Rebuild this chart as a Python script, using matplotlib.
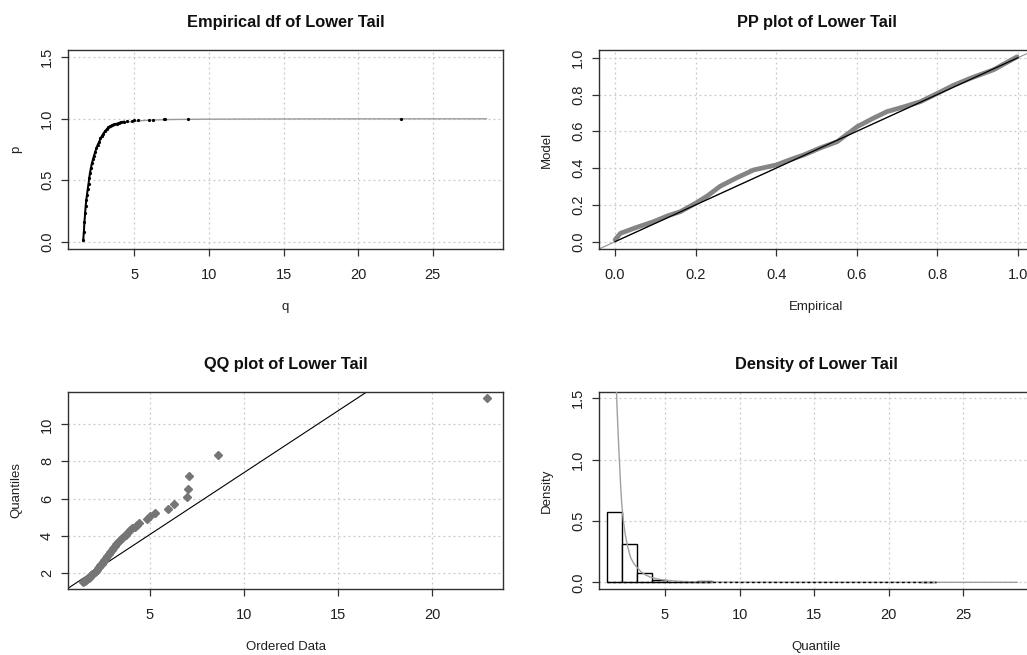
import matplotlib
matplotlib.use('Agg')
import matplotlib.pyplot as plt

plt.rcParams['font.family'] = ['Liberation Sans', 'DejaVu Sans']

# ---------------------------------------------------------------------------
# Data
# ---------------------------------------------------------------------------

# Empirical df: empirical points (black) and fitted model curve (grey)
ecdf_q = [1.58, 1.62, 1.66, 1.70, 1.74, 1.78, 1.83, 1.88, 1.93, 1.98, 2.03,
          2.09, 2.16, 2.23, 2.30, 2.38, 2.46, 2.55, 2.64, 2.73, 2.83, 2.93,
          3.04, 3.15, 3.27, 3.40, 3.53, 3.67, 3.82, 3.97, 4.12, 4.30, 4.50,
          4.86, 4.98, 5.27, 5.97, 6.28, 6.97, 7.09, 8.63, 22.89]
ecdf_p = [0.01, 0.08, 0.16, 0.23, 0.29, 0.34, 0.38, 0.43, 0.47, 0.52, 0.56,
          0.60, 0.64, 0.67, 0.70, 0.73, 0.76, 0.79, 0.81, 0.84, 0.86, 0.88,
          0.90, 0.915, 0.93, 0.94, 0.95, 0.955, 0.96, 0.967, 0.972, 0.977, 0.982,
          0.985, 0.988, 0.990, 0.992, 0.994, 0.996, 0.997, 0.998, 1.0]
model_q = [1.55, 1.6, 1.7, 1.8, 1.9, 2.0, 2.2, 2.4, 2.6, 2.8, 3.0, 3.3, 3.6,
           4.0, 4.5, 5.0, 6.0, 7.0, 8.0, 10.0, 13.0, 17.0, 22.0, 28.6]
model_p = [0.0, 0.08, 0.22, 0.35, 0.45, 0.53, 0.65, 0.74, 0.80, 0.85, 0.885,
           0.92, 0.94, 0.958, 0.972, 0.98, 0.989, 0.993, 0.995, 0.997, 0.998,
           0.999, 0.9995, 0.9998]

# PP plot
pp_empirical = [0.0, 0.013, 0.05, 0.096, 0.13, 0.162, 0.20, 0.23, 0.26, 0.30,
                0.344, 0.40, 0.44, 0.468, 0.51, 0.551, 0.601, 0.64, 0.675,
                0.72, 0.758, 0.80, 0.84, 0.882, 0.94, 0.998]
pp_model = [0.01, 0.045, 0.075, 0.109, 0.14, 0.163, 0.209, 0.25, 0.30, 0.345,
            0.39, 0.417, 0.45, 0.471, 0.51, 0.543, 0.625, 0.67, 0.707, 0.735,
            0.761, 0.806, 0.85, 0.888, 0.935, 1.005]
pp_ref = [0.0, 1.0]

# QQ plot
qq_data = [1.46, 1.50, 1.55, 1.60, 1.65, 1.70, 1.76, 1.82, 1.88, 1.94, 2.00,
           2.06, 2.12, 2.18, 2.24, 2.30, 2.37, 2.44, 2.51, 2.58, 2.65, 2.72,
           2.80, 2.88, 2.96, 3.04, 3.12, 3.21, 3.30, 3.40, 3.50, 3.60, 3.70,
           3.82, 3.94, 4.06, 4.18, 4.30, 4.42, 4.86, 4.98, 5.27, 5.97, 6.28,
           6.97, 7.02, 7.09, 8.63, 22.89]
qq_quant = [1.50, 1.53, 1.57, 1.61, 1.65, 1.69, 1.74, 1.79, 1.85, 1.91, 1.97,
            2.03, 2.10, 2.16, 2.24, 2.31, 2.39, 2.48, 2.57, 2.67, 2.77, 2.88,
            3.00, 3.13, 3.24, 3.35, 3.45, 3.56, 3.65, 3.75, 3.86, 3.96, 4.05,
            4.17, 4.29, 4.39, 4.49, 4.59, 4.70, 4.92, 5.05, 5.22, 5.44, 5.72,
            6.08, 6.51, 7.20, 8.37, 11.42]
qq_intercept = 0.73
qq_slope = 0.667

# Density: histogram and fitted density
hist_edges = [1.14, 2.14, 3.14, 4.14, 5.14, 6.14, 7.14, 8.14, 9.14, 10.14,
              11.14, 12.14, 13.14, 14.14, 15.14, 16.14, 17.14, 18.14, 19.14,
              20.14, 21.14, 22.14, 23.14]
hist_dens = [0.57, 0.31, 0.076, 0.018, 0.006, 0.004, 0.01, 0, 0, 0, 0, 0, 0,
             0, 0, 0, 0, 0, 0, 0, 0, 0.002]
dens_x = [1.72, 1.80, 1.87, 1.94, 2.02, 2.10, 2.21, 2.35, 2.50, 2.70, 2.90,
          3.10, 3.40, 3.70, 4.00, 4.50, 5.00, 6.00, 7.00, 8.00, 10.0, 13.0,
          17.0, 22.0, 28.6]
dens_y = [1.65, 1.38, 1.18, 1.00, 0.80, 0.64, 0.50, 0.38, 0.29, 0.20, 0.155,
          0.125, 0.085, 0.06, 0.043, 0.027, 0.017, 0.008, 0.004, 0.002, 0.001,
          0.0005, 0.0002, 0.0001, 0.00005]

# ---------------------------------------------------------------------------
# Plotting
# ---------------------------------------------------------------------------

W, H = 1027, 655
fig = plt.figure(figsize=(W / 100, H / 100), dpi=100, facecolor='white')

def make_axes(left, top, width, height):
    return fig.add_axes([left / W, 1 - (top + height) / H, width / W, height / H])

# right-hand panels run past the right edge, as in the cropped original
ax_tl = make_axes(68, 50, 435, 199)
ax_tr = make_axes(599, 50, 435, 199)
ax_bl = make_axes(68, 391.7, 435, 197.6)
ax_br = make_axes(599, 391.7, 435, 197.6)

frame_col = '#303030'
grid_col = '#c8c8c8'

def style(ax, title, xlabel, ylabel, xticks, yticks, xfmt, yfmt, xlim, ylim):
    ax.set_xlim(*xlim)
    ax.set_ylim(*ylim)
    ax.set_xticks(xticks)
    ax.set_yticks(yticks)
    ax.set_xticklabels([xfmt.format(v) for v in xticks])
    ax.set_yticklabels([yfmt.format(v) for v in yticks])
    ax.grid(True, color=grid_col, linestyle=(0, (1.5, 2.5)), linewidth=0.9)
    ax.set_axisbelow(True)
    for s in ax.spines.values():
        s.set_color(frame_col)
        s.set_linewidth(1.0)
    ax.tick_params(direction='out', length=5, width=0.9, color=frame_col,
                   labelsize=10.5, labelcolor='#202020')
    ax.tick_params(axis='x', pad=8.5)
    ax.tick_params(axis='y', pad=5, labelrotation=90)
    for lab in ax.get_yticklabels():
        lab.set_verticalalignment('center')
    ax.set_title(title, fontsize=11.8, fontweight='bold', pad=16.5, color='#101010')
    ax.set_xlabel(xlabel, fontsize=9.5, color='#202020')
    ax.set_ylabel(ylabel, fontsize=9.5, color='#202020')
    ax.xaxis.set_label_coords(0.5, -52 / ax.bbox.height)
    ax.yaxis.set_label_coords(-46 / ax.bbox.width, 0.5)

# Empirical df
ax_tl.plot(model_q, model_p, color='#9a9a9a', lw=1.0, zorder=2)
ax_tl.plot(ecdf_q[:32], ecdf_p[:32], color='black', lw=1.4, zorder=3)
ax_tl.plot(ecdf_q, ecdf_p, linestyle='none', marker='o', ms=1.3,
           color='black', zorder=3)
style(ax_tl, 'Empirical df of Lower Tail', 'q', 'p',
      [5, 10, 15, 20, 25], [0.0, 0.5, 1.0, 1.5], '{:d}', '{:.1f}',
      (0.556, 29.71), (-0.06, 1.56))

# PP plot
ax_tr.axline((0, 0), slope=1, color='#909090', lw=0.8, zorder=1)
ax_tr.plot(pp_empirical, pp_model, color='#858585', lw=3.4,
           solid_capstyle='round', solid_joinstyle='round', zorder=2)
ax_tr.plot(pp_ref, pp_ref, color='black', lw=0.9, zorder=3)
style(ax_tr, 'PP plot of Lower Tail', 'Empirical', 'Model',
      [0.0, 0.2, 0.4, 0.6, 0.8, 1.0], [0.0, 0.2, 0.4, 0.6, 0.8, 1.0],
      '{:.1f}', '{:.1f}', (-0.04, 1.04), (-0.04, 1.042))

# QQ plot
ax_bl.axline((0, qq_intercept), slope=qq_slope, color='black', lw=0.8, zorder=2)
ax_bl.plot(qq_data, qq_quant, linestyle='none', marker='D', ms=4.4,
           color='#757575', zorder=3)
style(ax_bl, 'QQ plot of Lower Tail', 'Ordered Data', 'Quantiles',
      [5, 10, 15, 20], [2, 4, 6, 8, 10], '{:d}', '{:d}',
      (0.643, 23.76), (1.105, 11.76))

# Density
widths = [hist_edges[i + 1] - hist_edges[i] for i in range(len(hist_dens))]
nz = [i for i, d in enumerate(hist_dens) if d > 0]
ax_br.bar([hist_edges[i] for i in nz], [hist_dens[i] for i in nz],
          width=[widths[i] for i in nz], align='edge', facecolor='white',
          edgecolor='black', linewidth=1.0, zorder=2)
ax_br.plot(dens_x, dens_y, color='#a0a0a0', lw=1.0, zorder=4)
ax_br.hlines(0, hist_edges[0], hist_edges[-1], colors='black',
             linestyles=(0, (2, 2)), linewidth=1.0, zorder=5)
style(ax_br, 'Density of Lower Tail', 'Quantile', 'Density',
      [5, 10, 15, 20, 25], [0.0, 0.5, 1.0, 1.5], '{:d}', '{:.1f}',
      (0.576, 29.73), (-0.057, 1.554))

fig.savefig('out.png', dpi=100, facecolor='white')
